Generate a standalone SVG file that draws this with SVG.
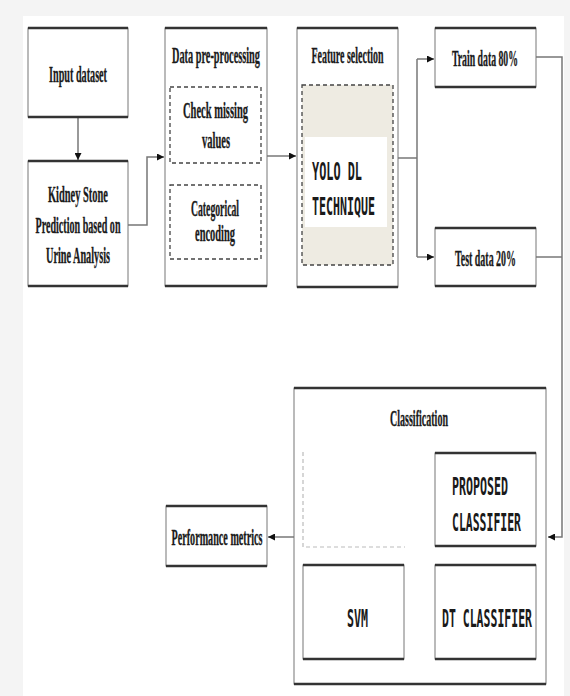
<svg xmlns="http://www.w3.org/2000/svg" width="570" height="696" viewBox="0 0 570 696">
<defs>
<style>
.bx{fill:#fff;stroke:#777;stroke-width:1}
.edge{stroke:#333;stroke-width:2.5;fill:none}
.dash{fill:none;stroke:#444;stroke-width:1.3;stroke-dasharray:4 3}
.conn{fill:none;stroke:#777;stroke-width:1.5}
.t{font-family:"Liberation Serif","Times New Roman",serif;font-weight:bold;font-size:24px;fill:#1a1a1a;stroke:#1a1a1a;stroke-width:0.35;text-anchor:middle}
.m{font-family:"DejaVu Sans Mono","Liberation Mono",monospace;font-weight:bold;font-size:24px;fill:#1a1a1a}
</style>
<marker id="ah" viewBox="0 0 10 10" refX="10" refY="5" markerWidth="7" markerHeight="7" markerUnits="userSpaceOnUse" orient="auto">
<path d="M0,0 L10,5 L0,10 z" fill="#111"/>
</marker>
</defs>
<rect x="0" y="0" width="570" height="696" fill="#f4f4f4"/>
<rect x="23" y="16" width="541" height="680" fill="#fff"/>

<g id="connectors">
<line class="conn" x1="78" y1="117" x2="78" y2="160" marker-end="url(#ah)"/>
<polyline class="conn" points="128,225 147,225 147,157 164,157" marker-end="url(#ah)"/>
<line class="conn" x1="267" y1="156" x2="296" y2="156" marker-end="url(#ah)"/>
<polyline class="conn" points="398,158 417,158"/>
<polyline class="conn" points="417,59 417,257"/>
<line class="conn" x1="417" y1="59" x2="434" y2="59" marker-end="url(#ah)"/>
<line class="conn" x1="417" y1="257" x2="434" y2="257" marker-end="url(#ah)"/>
<polyline class="conn" points="536,57 562,57 562,537 548,537" marker-end="url(#ah)"/>
<line class="conn" x1="536" y1="257" x2="562" y2="257"/>
<line class="conn" x1="294" y1="537" x2="268" y2="537" marker-end="url(#ah)"/>
</g>

<g id="input-dataset">
<rect class="bx" x="28" y="28" width="100" height="89"/>
<line class="edge" x1="28" y1="28" x2="128" y2="28"/>
<line class="edge" x1="28" y1="117" x2="128" y2="117"/>
<text class="t" x="78" y="82" textLength="58" lengthAdjust="spacingAndGlyphs">Input dataset</text>
</g>

<g id="kidney-stone">
<rect class="bx" x="28" y="161" width="100" height="125"/>
<line class="edge" x1="28" y1="161" x2="128" y2="161"/>
<line class="edge" x1="28" y1="286" x2="128" y2="286"/>
<text class="t" x="78" y="202" textLength="60" lengthAdjust="spacingAndGlyphs">Kidney Stone</text>
<text class="t" x="78" y="233" textLength="85" lengthAdjust="spacingAndGlyphs">Prediction based on</text>
<text class="t" x="78" y="263" textLength="64" lengthAdjust="spacingAndGlyphs">Urine Analysis</text>
</g>

<g id="data-preprocessing">
<rect class="bx" x="165" y="28" width="102" height="258"/>
<line class="edge" x1="165" y1="28" x2="267" y2="28"/>
<line class="edge" x1="165" y1="286" x2="267" y2="286"/>
<text class="t" x="216" y="63" textLength="88" lengthAdjust="spacingAndGlyphs">Data pre-processing</text>
<rect class="dash" x="170" y="87" width="91" height="76"/>
<text class="t" x="215.5" y="118" textLength="65" lengthAdjust="spacingAndGlyphs">Check missing</text>
<text class="t" x="216" y="148" textLength="28" lengthAdjust="spacingAndGlyphs">values</text>
<rect class="dash" x="170" y="185" width="91" height="74"/>
<text class="t" x="215" y="216" textLength="48" lengthAdjust="spacingAndGlyphs">Categorical</text>
<text class="t" x="215" y="241" textLength="40" lengthAdjust="spacingAndGlyphs">encoding</text>
</g>

<g id="feature-selection">
<rect class="bx" x="297" y="28" width="101" height="259"/>
<line class="edge" x1="297" y1="28" x2="398" y2="28"/>
<line class="edge" x1="297" y1="287" x2="398" y2="287"/>
<text class="t" x="347.5" y="63" textLength="72" lengthAdjust="spacingAndGlyphs">Feature selection</text>
<rect x="302" y="85" width="91" height="180" fill="#eeebe2" stroke="#444" stroke-width="1.3" stroke-dasharray="4 3"/>
<rect x="305" y="137" width="82" height="90" fill="#fff"/>
<text class="m" x="312" y="180" textLength="50" lengthAdjust="spacingAndGlyphs">YOLO DL</text>
<text class="m" x="312" y="215" textLength="63" lengthAdjust="spacingAndGlyphs">TECHNIQUE</text>
</g>

<g id="train-data">
<rect class="bx" x="435" y="28" width="101" height="59"/>
<line class="edge" x1="435" y1="28" x2="536" y2="28"/>
<line class="edge" x1="435" y1="87" x2="536" y2="87"/>
<text class="t" x="485" y="66" textLength="66" lengthAdjust="spacingAndGlyphs">Train data 80%</text>
</g>

<g id="test-data">
<rect class="bx" x="435" y="228" width="101" height="58"/>
<line class="edge" x1="435" y1="228" x2="536" y2="228"/>
<line class="edge" x1="435" y1="286" x2="536" y2="286"/>
<text class="t" x="485.5" y="266" textLength="61" lengthAdjust="spacingAndGlyphs">Test data 20%</text>
</g>

<g id="classification">
<rect class="bx" x="294" y="388" width="252" height="296"/>
<line class="edge" x1="294" y1="388" x2="546" y2="388"/>
<line class="edge" x1="294" y1="684" x2="546" y2="684"/>
<text class="t" x="419" y="426" textLength="58" lengthAdjust="spacingAndGlyphs">Classification</text>
<polyline points="303,452 303,547 405,547" fill="none" stroke="#bbb" stroke-width="1.2" stroke-dasharray="4 3"/>
</g>

<g id="proposed-classifier">
<rect class="bx" x="435" y="453" width="101" height="93"/>
<line class="edge" x1="435" y1="453" x2="536" y2="453"/>
<line class="edge" x1="435" y1="546" x2="536" y2="546"/>
<text class="m" x="452" y="495" textLength="56" lengthAdjust="spacingAndGlyphs">PROPOSED</text>
<text class="m" x="452" y="531" textLength="69" lengthAdjust="spacingAndGlyphs">CLASSIFIER</text>
</g>

<g id="svm">
<rect class="bx" x="303" y="565" width="101" height="94"/>
<line class="edge" x1="303" y1="565" x2="404" y2="565"/>
<line class="edge" x1="303" y1="659" x2="404" y2="659"/>
<text class="m" x="357.5" y="627" text-anchor="middle" textLength="21" lengthAdjust="spacingAndGlyphs">SVM</text>
</g>

<g id="dt-classifier">
<rect class="bx" x="435" y="565" width="101" height="94"/>
<line class="edge" x1="435" y1="565" x2="536" y2="565"/>
<line class="edge" x1="435" y1="659" x2="536" y2="659"/>
<text class="m" x="487" y="627" text-anchor="middle" textLength="90" lengthAdjust="spacingAndGlyphs">DT CLASSIFIER</text>
</g>

<g id="performance-metrics">
<rect class="bx" x="166" y="506" width="101" height="60"/>
<line class="edge" x1="166" y1="506" x2="267" y2="506"/>
<line class="edge" x1="166" y1="566" x2="267" y2="566"/>
<text class="t" x="217" y="545" textLength="91" lengthAdjust="spacingAndGlyphs">Performance metrics</text>
</g>
</svg>
